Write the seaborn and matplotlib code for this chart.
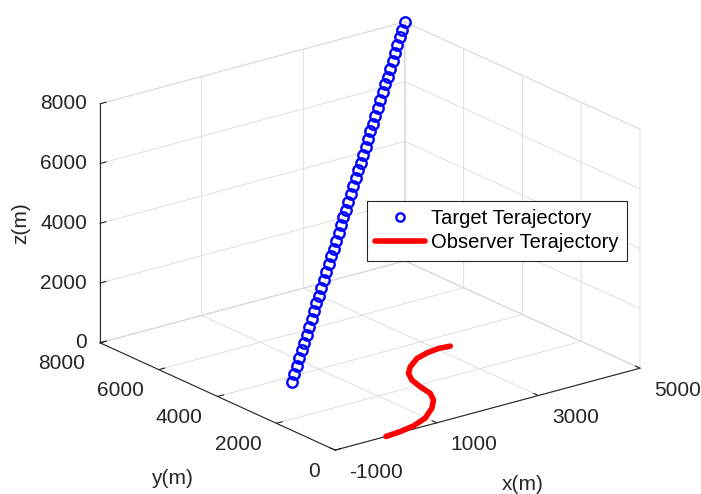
import matplotlib
matplotlib.use("Agg")
import matplotlib.pyplot as plt
import seaborn as sns
from mpl_toolkits.mplot3d import proj3d

# ---------------- data ----------------
target_x = [0, 109, 217, 326, 435, 543, 652, 761, 870, 978, 1087, 1196, 1304, 1413, 1522,
            1630, 1739, 1848, 1957, 2065, 2174, 2283, 2391, 2500, 2609, 2717, 2826, 2935,
            3043, 3152, 3261, 3370, 3478, 3587, 3696, 3804, 3913, 4022, 4130, 4239, 4348,
            4457, 4565, 4674, 4783, 4891, 5000]
target_y = [3200, 3304, 3409, 3513, 3617, 3722, 3826, 3930, 4035, 4139, 4243, 4348, 4452,
            4557, 4661, 4765, 4870, 4974, 5078, 5183, 5287, 5391, 5496, 5600, 5704, 5809,
            5913, 6017, 6122, 6226, 6330, 6435, 6539, 6643, 6748, 6852, 6957, 7061, 7165,
            7270, 7374, 7478, 7583, 7687, 7791, 7896, 8000]
target_z = [400, 565, 730, 896, 1061, 1226, 1391, 1557, 1722, 1887, 2052, 2217, 2383, 2548,
            2713, 2878, 3043, 3209, 3374, 3539, 3704, 3870, 4035, 4200, 4365, 4530, 4696,
            4861, 5026, 5191, 5357, 5522, 5687, 5852, 6017, 6183, 6348, 6513, 6678, 6843,
            7009, 7174, 7339, 7504, 7670, 7835, 8000]

observer_x = [0, 307, 628, 982, 1336, 1580, 1720, 1774, 1851, 1989, 2189, 2500, 2776, 3040, 3249]
observer_y = [0, 48, 149, 363, 747, 1115, 1469, 1901, 2317, 2672, 2959, 3268, 3406, 3467, 3429]
observer_z = [0, 0, 0, 0, 0, 0, 0, 0, 0, 0, 0, 0, 0, 0, 0]

x_ticks = [-1000, 1000, 3000, 5000]
y_ticks = [0, 2000, 4000, 6000, 8000]
z_ticks = [0, 2000, 4000, 6000, 8000]
x_tick_labels = ["-1000", "1000", "3000", "5000"]
y_tick_labels = ["0", "2000", "4000", "6000", "8000"]
z_tick_labels = ["0", "2000", "4000", "6000", "8000"]
x_lim = (-1000, 5000)
y_lim = (0, 8000)
z_lim = (0, 8000)
x_label, y_label, z_label = "x(m)", "y(m)", "z(m)"
legend_labels = ["Target Terajectory", "Observer Terajectory"]

# ---------------- style ----------------
sns.set_theme(style="white")
plt.rcParams['font.family'] = ['Liberation Sans', 'DejaVu Sans']
plt.rcParams['grid.color'] = '#dadada'
plt.rcParams['grid.linewidth'] = 0.6
if 'axes3d.automargin' in plt.rcParams:
    plt.rcParams['axes3d.automargin'] = False

TXT = '#262626'
GRID = '#dadada'
W, H = 701, 494
fig = plt.figure(figsize=(W / 100, H / 100), dpi=100)
ax = fig.add_axes([0.1, 0.05, 0.8, 0.9], projection='3d')
ax.set_proj_type('ortho')
ax.view_init(elev=20.5, azim=-127.5)
ax.set_box_aspect((384, 386, 255))

ax.plot(target_x, target_y, target_z, linestyle='none', marker='o', mfc='none',
        mec='#0000ff', ms=7.5, mew=1.7, label=legend_labels[0])
ax.plot(observer_x, observer_y, observer_z, color='#ff0000', lw=4,
        solid_capstyle='round', solid_joinstyle='round', label=legend_labels[1])

ax.set_xlim(*x_lim)
ax.set_ylim(*y_lim)
ax.set_zlim(*z_lim)
ax.set_xticks(x_ticks)
ax.set_yticks(y_ticks)
ax.set_zticks(z_ticks)
ax.set_xticklabels([])
ax.set_yticklabels([])
ax.set_zticklabels([])

for axis in (ax.xaxis, ax.yaxis, ax.zaxis):
    axis.set_pane_color((1, 1, 1, 1))
    axis.pane.set_edgecolor(GRID)
    axis.pane.set_linewidth(0.6)
    axis.line.set_color(TXT)
    axis.line.set_linewidth(0.8)
    axis._axinfo['tick']['inward_factor'] = 0.0
    axis._axinfo['tick']['outward_factor'] = 0.25
    axis._axinfo['tick']['linewidth'] = {True: 0.8, False: 0.5}
    axis._axinfo['grid']['color'] = GRID
    axis._axinfo['grid']['linewidth'] = 0.6
    axis._axinfo['axisline']['color'] = TXT
    axis._axinfo['axisline']['linewidth'] = 0.8
ax.tick_params(axis='both', colors=TXT)
ax.grid(True)
ax.patch.set_alpha(0)

# ---------------- fit box to target pixel extent ----------------
tgt = dict(left=100, right=640, top=22, bottom=450)


def to_px(cx, cy, cz):
    M = ax.get_proj()
    x2, y2, _ = proj3d.proj_transform(cx, cy, cz, M)
    p = ax.transData.transform((x2, y2))
    return p[0], H - p[1]


def box_extent():
    fig.canvas.draw()
    pts = [to_px(cx, cy, cz) for cx in x_lim for cy in y_lim for cz in z_lim]
    xs = [p[0] for p in pts]
    ys = [p[1] for p in pts]
    return min(xs), max(xs), min(ys), max(ys)


for _ in range(6):
    l, r, t, b = box_extent()
    s = (tgt['right'] - tgt['left']) / (r - l)
    pos = ax.get_position(original=True)
    cxp, cyp = (l + r) / 2, (t + b) / 2
    tx, ty = (tgt['left'] + tgt['right']) / 2, (tgt['top'] + tgt['bottom']) / 2
    acx = (pos.x0 + pos.width / 2) * W
    acy = H - (pos.y0 + pos.height / 2) * H
    ncx = tx - (cxp - acx) * s
    ncy = ty - (cyp - acy) * s
    nw, nh = pos.width * s, pos.height * s
    ax.set_position([ncx / W - nw / 2, 1 - ncy / H - nh / 2, nw, nh])

fig.canvas.draw()

# ---------------- tick labels (placed at projected tick positions) ----------------
TFS = 15
for v, lab in zip(x_ticks, x_tick_labels):
    px, py = to_px(v, y_lim[0], z_lim[0])
    fig.text((px + 14) / W, 1 - (py + 22) / H, lab, ha='left', va='center',
             fontsize=TFS, color=TXT)
for v, lab in zip(y_ticks, y_tick_labels):
    px, py = to_px(x_lim[0], v, z_lim[0])
    fig.text((px - 15) / W, 1 - (py + 21) / H, lab, ha='right', va='center',
             fontsize=TFS, color=TXT)
for v, lab in zip(z_ticks, z_tick_labels):
    px, py = to_px(x_lim[0], y_lim[1], v)
    fig.text((px - 13) / W, 1 - py / H, lab, ha='right', va='center',
             fontsize=TFS, color=TXT)

# ---------------- axis labels & legend ----------------
fig.text(523 / W, 1 - 484 / H, x_label, ha='center', va='center', fontsize=15, color=TXT)
fig.text(172 / W, 1 - 478 / H, y_label, ha='center', va='center', fontsize=15, color=TXT)
fig.text(21 / W, 1 - 223 / H, z_label, ha='center', va='center', fontsize=15, color=TXT,
         rotation=90)

leg = ax.legend(loc='upper left', bbox_to_anchor=(367 / W, 1 - 201 / H),
                bbox_transform=fig.transFigure, borderaxespad=0, fontsize=14.5,
                frameon=True, fancybox=False, framealpha=1, edgecolor=TXT,
                handlelength=2.45, handletextpad=0.3, labelspacing=0.25,
                borderpad=0.42)
leg.get_frame().set_linewidth(0.8)
for txt in leg.get_texts():
    txt.set_color('black')
for h in leg.legend_handles:
    if h.get_marker() == 'o':
        h.set_markersize(6)

fig.savefig('out.png', dpi=100)
